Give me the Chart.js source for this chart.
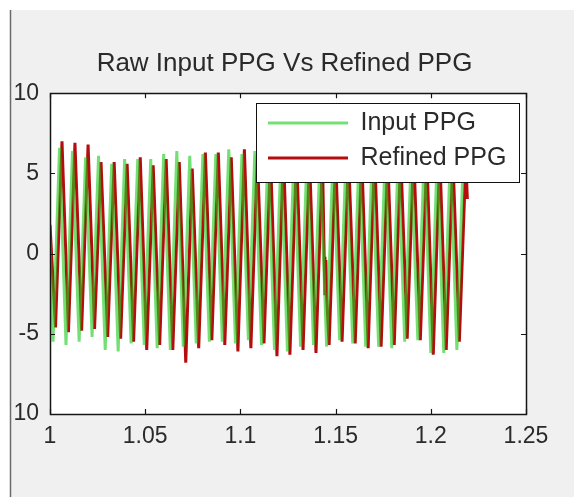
<!DOCTYPE html>
<html><head><meta charset="utf-8">
<script src="https://cdn.jsdelivr.net/npm/chart.js@4/dist/chart.umd.min.js"></script>
<style>html,body{margin:0;padding:0;background:#fff;overflow:hidden}#wrap{width:574px;height:497px;position:relative}</style>
</head><body><div id="wrap"><canvas id="c" width="574" height="497"></canvas></div>
<script>
const titleText = 'Raw Input PPG Vs Refined PPG';
const seriesNames = ['Input PPG', 'Refined PPG'];
const xTickLabels = ['1', '1.05', '1.1', '1.15', '1.2', '1.25'];
const yTickLabels = ['10', '-5', '0', '5', '10'];

const inputTimes = [1.0000,
1.0016, 1.0050, 1.0084, 1.0118, 1.0153, 1.0187, 1.0221, 1.0255, 1.0290, 1.0324,
1.0358, 1.0392, 1.0426, 1.0461, 1.0495, 1.0529, 1.0563, 1.0597, 1.0632, 1.0666,
1.0700, 1.0734, 1.0768, 1.0803, 1.0837, 1.0871, 1.0905, 1.0939, 1.0974, 1.1008,
1.1042, 1.1076, 1.1111, 1.1145, 1.1179, 1.1213, 1.1247, 1.1282, 1.1316, 1.1350,
1.1384, 1.1418, 1.1453, 1.1487, 1.1521, 1.1555, 1.1590, 1.1624, 1.1658, 1.1692,
1.1726, 1.1761, 1.1795, 1.1829, 1.1863, 1.1897, 1.1932, 1.1966, 1.2000, 1.2034,
1.2068, 1.2103, 1.2137, 1.2171, 1.2188];
const inputValues = [0.8,
-5.5, 6.6, -5.7, 6.4, -5.5, 6.0, -5.2, 6.1, -6.0, 5.6,
-6.1, 5.9, -5.6, 5.9, -5.7, 5.9, -5.9, 6.2, -6.0, 6.4,
-5.8, 6.1, -5.6, 6.2, -5.5, 6.2, -5.5, 6.5, -5.6, 6.2,
-5.4, 6.4, -5.7, 6.3, -6.0, 6.1, -6.1, 6.4, -5.8, 6.2,
-5.7, 6.0, -5.8, 6.3, -5.4, 6.2, -5.6, 6.4, -5.8, 6.1,
-5.8, 6.3, -5.9, 6.2, -5.5, 6.0, -5.4, 6.4, -6.2, 6.2,
-6.2, 6.3, -6.0, 6.1, 5.0];

const refinedTimes = [1.0000,
1.0029, 1.0063, 1.0097, 1.0131, 1.0166, 1.0200, 1.0234, 1.0268, 1.0303, 1.0337,
1.0371, 1.0405, 1.0439, 1.0474, 1.0508, 1.0542, 1.0576, 1.0610, 1.0645, 1.0679,
1.0713, 1.0747, 1.0781, 1.0816, 1.0850, 1.0884, 1.0918, 1.0952, 1.0987, 1.1021,
1.1055, 1.1089, 1.1124, 1.1158, 1.1192, 1.1226, 1.1260, 1.1295, 1.1329, 1.1363,
1.1397, 1.1431, 1.1440, 1.1444, 1.1449, 1.1453,
1.1466, 1.1500, 1.1534, 1.1568, 1.1603, 1.1637, 1.1671, 1.1705, 1.1739, 1.1774,
1.1808, 1.1842, 1.1876, 1.1910, 1.1945, 1.1979, 1.2013, 1.2047, 1.2081, 1.2116,
1.2150, 1.2184, 1.2192];
const refinedValues = [1.8,
-4.6, 7.0, -4.9, 6.9, -4.8, 6.8, -4.7, 5.7, -5.2, 5.7,
-5.3, 5.6, -5.5, 6.0, -6.0, 5.5, -5.7, 5.9, -6.0, 5.7,
-6.8, 5.3, -5.9, 6.3, -5.4, 6.3, -5.7, 6.0, -6.1, 6.5,
-5.9, 6.2, -5.6, 6.1, -6.4, 6.4, -6.3, 6.2, -6.0, 6.0,
-6.2, 6.0, -0.2, -2.6, -0.4, -2.7,
-5.7, 6.0, -5.5, 6.2, -5.6, 6.1, -5.9, 6.3, -5.8, 6.0,
-5.7, 6.2, -5.3, 6.4, -5.4, 6.1, -6.3, 6.2, -6.0, 6.0,
-5.5, 5.8, 3.4];

const FONT = "'Liberation Sans', Arial, sans-serif";
const TEXT = '#2a2a2a';

const framePlugin = {
  id: 'frame',
  beforeDraw(chart) {
    const ctx = chart.ctx, ca = chart.chartArea;
    ctx.save();
    ctx.fillStyle = '#ffffff';
    ctx.fillRect(0, 0, chart.width, chart.height);
    ctx.fillStyle = '#f0f0f0';
    ctx.fillRect(11, 10, chart.width - 11, chart.height - 10);
    ctx.strokeStyle = '#6a6a6a';
    ctx.lineWidth = 1.5;
    ctx.beginPath(); ctx.moveTo(10.5, 10); ctx.lineTo(10.5, chart.height); ctx.stroke();
    ctx.fillStyle = '#ffffff';
    ctx.fillRect(ca.left, ca.top, ca.right - ca.left, ca.bottom - ca.top);
    ctx.restore();
  },
  afterLayout(chart) {
    const lg = chart.legend;
    if (!lg) return;
    lg.left = 258; lg.top = 100.5;
    lg.right = lg.left + 300; lg.bottom = lg.top + 200;
    lg.width = 300; lg.height = 200;
  },
  afterDatasetsDraw(chart) {
    const ctx = chart.ctx, ca = chart.chartArea;
    const lg = chart.legend;
    ctx.save();
    ctx.fillStyle = '#ffffff';
    ctx.fillRect(256.5, 103.5, 263, 79);
    ctx.strokeStyle = '#111';
    ctx.lineWidth = 1;
    ctx.strokeRect(256.5, 103.5, 263, 79);
    ctx.restore();
    if (lg) lg.draw();
    ctx.save();
    ctx.strokeStyle = '#151515';
    ctx.lineWidth = 1.5;
    ctx.strokeRect(Math.round(ca.left) + 0.5, Math.round(ca.top) + 0.5,
      Math.round(ca.right - ca.left), Math.round(ca.bottom - ca.top));
    const xs = chart.scales.x, ys = chart.scales.y;
    ctx.lineWidth = 1.2;
    ctx.beginPath();
    xs.ticks.forEach(t => {
      const p = Math.round(xs.getPixelForValue(t.value)) + 0.5;
      ctx.moveTo(p, ca.bottom); ctx.lineTo(p, ca.bottom - 5);
      ctx.moveTo(p, ca.top); ctx.lineTo(p, ca.top + 5);
    });
    ys.ticks.forEach(t => {
      const p = Math.round(ys.getPixelForValue(t.value)) + 0.5;
      ctx.moveTo(ca.left, p); ctx.lineTo(ca.left + 5, p);
      ctx.moveTo(ca.right, p); ctx.lineTo(ca.right - 5, p);
    });
    ctx.stroke();
    ctx.restore();
  }
};

const toPoints = (ts, vs) => ts.map((t, i) => ({ x: t, y: vs[i] }));

new Chart(document.getElementById('c'), {
  type: 'line',
  data: {
    datasets: [
      { label: seriesNames[0], data: toPoints(inputTimes, inputValues), order: 0,
        borderColor: 'rgba(30,205,30,0.62)', borderWidth: 3, pointRadius: 0, tension: 0, fill: false },
      { label: seriesNames[1], data: toPoints(refinedTimes, refinedValues), order: 1,
        borderColor: '#b40d0d', borderWidth: 3, pointRadius: 0, tension: 0, fill: false }
    ]
  },
  options: {
    responsive: false,
    devicePixelRatio: 1,
    animation: false,
    layout: { padding: { left: 0, right: 5, top: 10, bottom: 0 } },
    plugins: {
      title: {
        display: true, text: titleText, color: TEXT,
        font: { family: FONT, size: 26, weight: 'normal' },
        padding: { top: 38, bottom: 14 }
      },
      legend: {
        display: true, position: 'chartArea', align: 'start',
        labels: {
          usePointStyle: true, pointStyle: 'line', pointStyleWidth: 80, boxWidth: 80,
          padding: 10, color: TEXT,
          font: { family: FONT, size: 25 }
        }
      },
      tooltip: { enabled: false }
    },
    scales: {
      x: {
        type: 'linear', position: 'bottom', min: 1, max: 1.25,
        afterFit(s) { s.height = 83; },
        grid: { display: false, drawTicks: false },
        border: { display: false },
        ticks: {
          stepSize: 0.05, autoSkip: false, maxRotation: 0, padding: 9,
          color: TEXT, font: { family: FONT, size: 23 },
          callback: (v, i) => xTickLabels[i]
        }
      },
      y: {
        type: 'linear', position: 'left', min: -10, max: 10,
        afterFit(s) { s.width = 50; },
        grid: { display: false, drawTicks: false },
        border: { display: false },
        ticks: {
          stepSize: 5, autoSkip: false, padding: 11,
          color: TEXT, font: { family: FONT, size: 23 },
          callback: (v, i) => yTickLabels[i]
        }
      },
      y2: {
        type: 'linear', position: 'right', min: -10, max: 10,
        afterFit(s) { s.width = 43; },
        grid: { display: false, drawTicks: false },
        border: { display: false },
        ticks: { display: false }
      }
    }
  },
  plugins: [framePlugin]
});
</script>
</body></html>
